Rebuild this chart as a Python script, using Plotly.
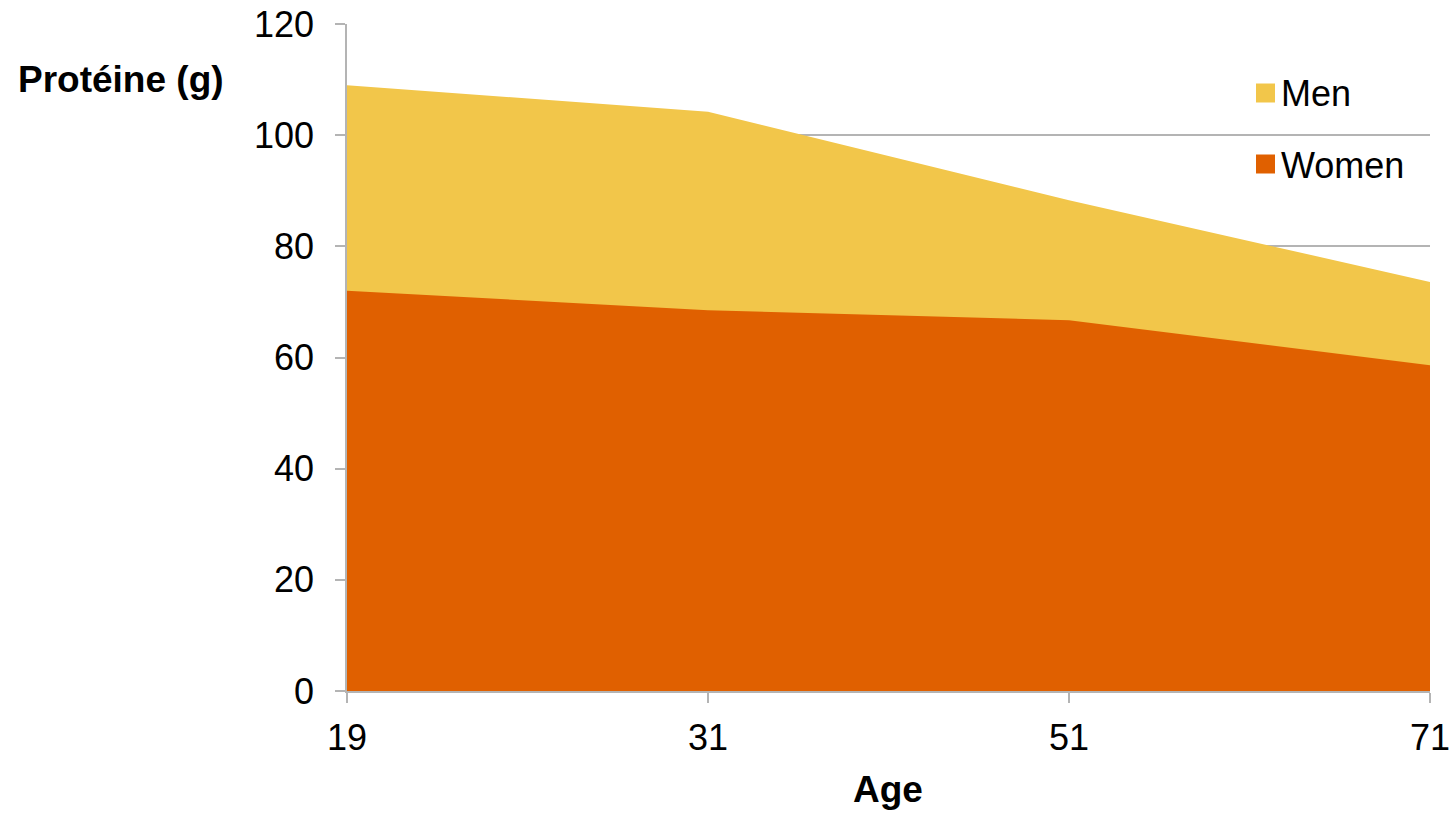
import plotly.graph_objects as go

ages = ["19", "31", "51", "71"]
men = [109.0, 104.2, 88.3, 73.6]
women = [72.0, 68.5, 66.7, 58.6]
series_names = ["Men", "Women"]
y_ticks = [0, 20, 40, 60, 80, 100, 120]

MEN_COLOR = "#F2C64A"
WOMEN_COLOR = "#E06000"
AXIS_GRAY = "#B4B4B4"
FONT = "Liberation Sans, Arial, sans-serif"

fig = go.Figure()
fig.add_trace(go.Scatter(
    x=ages, y=men, name=series_names[0], mode="lines",
    line=dict(width=0, color=MEN_COLOR), fill="tozeroy", fillcolor=MEN_COLOR,
    showlegend=False, hoverinfo="x+y+name",
))
fig.add_trace(go.Scatter(
    x=ages, y=women, name=series_names[1], mode="lines",
    line=dict(width=0, color=WOMEN_COLOR), fill="tozeroy", fillcolor=WOMEN_COLOR,
    showlegend=False, hoverinfo="x+y+name",
))

W, H = 1452, 813
L, R, T, B = 347, 22, 24, 122
pw, ph = W - L - R, H - T - B

def px(x):
    return (x - L) / pw

def py(y):
    return (H - B - y) / ph

# Legend: colour squares with labels
shapes = []
annotations = []
for name, color, cy in [(series_names[0], MEN_COLOR, 93), (series_names[1], WOMEN_COLOR, 164)]:
    shapes.append(dict(type="rect", xref="paper", yref="paper",
                       x0=px(1256), x1=px(1275), y0=py(cy + 9.5), y1=py(cy - 9.5),
                       fillcolor=color, line=dict(width=0)))
    annotations.append(dict(text=name, xref="paper", yref="paper", x=px(1279), y=py(cy + 1),
                            xanchor="left", yanchor="middle", showarrow=False,
                            font=dict(family=FONT, size=36, color="#000000")))

annotations.append(dict(text="<b>Protéine (g)</b>", xref="paper", yref="paper",
                        x=px(121), y=py(79), xanchor="center", yanchor="middle",
                        showarrow=False, font=dict(family=FONT, size=37, color="#000000")))
annotations.append(dict(text="<b>Age</b>", xref="paper", yref="paper",
                        x=px(888), y=py(789), xanchor="center", yanchor="middle",
                        showarrow=False, font=dict(family=FONT, size=37, color="#000000")))

fig.update_layout(
    width=W, height=H,
    margin=dict(l=L, r=R, t=T, b=B, pad=0, autoexpand=False),
    paper_bgcolor="white", plot_bgcolor="white",
    font=dict(family=FONT, size=36, color="#000000"),
    shapes=shapes, annotations=annotations,
    xaxis=dict(type="category", range=[0, 3], showgrid=False, zeroline=False,
               showline=True, linecolor=AXIS_GRAY, linewidth=1.5, automargin=False,
               ticks="outside", ticklen=10, tickcolor=AXIS_GRAY, tickwidth=1.5,
               ticklabelstandoff=4,
               tickfont=dict(family=FONT, size=36, color="#000000")),
    yaxis=dict(range=[0, 120], tickvals=y_ticks, showgrid=True, gridcolor=AXIS_GRAY, gridwidth=1.5,
               zeroline=False, showline=True, linecolor=AXIS_GRAY, linewidth=1.5, automargin=False,
               ticks="outside", ticklen=10, tickcolor=AXIS_GRAY, tickwidth=1.5,
               ticklabelstandoff=14,
               tickfont=dict(family=FONT, size=36, color="#000000")),
)

fig.write_html("out.html")
